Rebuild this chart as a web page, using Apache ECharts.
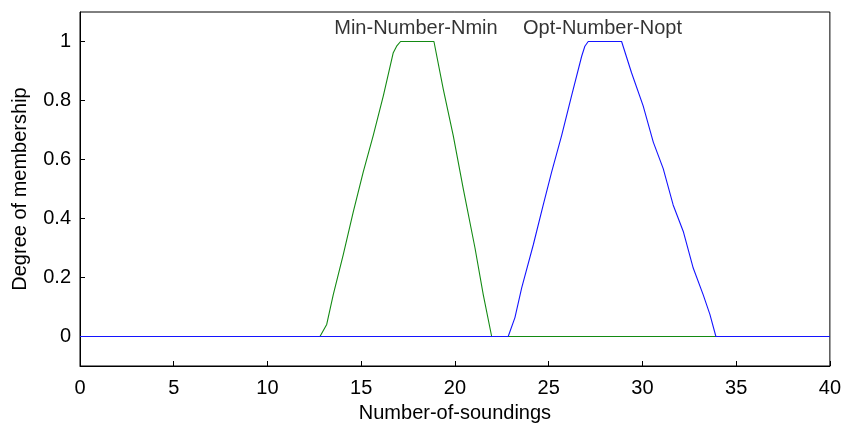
<!DOCTYPE html>
<html>
<head>
<meta charset="utf-8">
<script src="https://cdn.jsdelivr.net/npm/echarts@6/dist/echarts.min.js"></script>
<style>
html,body{margin:0;padding:0;background:#fff;}
#chart{width:844px;height:428px;}
</style>
</head>
<body>
<div id="chart"></div>
<script>
// Membership function "Min-Number-Nmin" (green)
var greenX = [0, 12.8, 13.16, 13.51, 14.04, 14.58, 15.11, 15.64, 16.18, 16.71, 16.89, 17.1, 18.88, 19.38, 19.91, 20.44, 21.07, 21.51, 21.96, 40];
var greenY = [0, 0, 0.041, 0.142, 0.277, 0.423, 0.558, 0.681, 0.816, 0.962, 0.984, 1, 1, 0.838, 0.681, 0.502, 0.300, 0.142, 0, 0];
// Membership function "Opt-Number-Nopt" (blue)
var blueX = [0, 22.84, 23.2, 23.56, 24.18, 24.71, 25.16, 25.69, 26.22, 26.76, 26.93, 27.11, 28.89, 29.42, 30.04, 30.58, 31.11, 31.64, 32.18, 32.71, 33.24, 33.6, 33.92, 40];
var blueY = [0, 0, 0.064, 0.165, 0.311, 0.446, 0.558, 0.681, 0.816, 0.950, 0.984, 1, 1, 0.894, 0.782, 0.659, 0.569, 0.446, 0.356, 0.232, 0.142, 0.075, 0, 0];
// MF names and the x where each name is centred
var mfNames = ['Min-Number-Nmin', 'Opt-Number-Nopt'];
var mfNameX = [17.92, 27.87];
var mfNameY = 1.045;
// Ticks
var yTicks = [0, 0.2, 0.4, 0.6, 0.8, 1];
var xTitle = 'Number-of-soundings';
var yTitle = 'Degree of membership';

function zip(xs, ys) { return xs.map(function (x, i) { return [x, ys[i]]; }); }

var FONT = 'Liberation Sans';
var FS = 20;
var chart = echarts.init(document.getElementById('chart'), null, { renderer: 'canvas' });

chart.setOption({
  animation: false,
  backgroundColor: '#fff',
  grid: { left: 80, right: 14, top: 12, bottom: 60, show: true, borderColor: '#000', borderWidth: 1, backgroundColor: 'transparent' },
  xAxis: {
    type: 'value', min: 0, max: 40, interval: 5,
    name: xTitle, nameLocation: 'middle', nameGap: 37,
    nameTextStyle: { fontFamily: FONT, fontSize: FS, color: '#000' },
    axisLine: { show: true, onZero: false, lineStyle: { color: '#000', width: 1 } },
    axisTick: { show: true, inside: true, length: 5, lineStyle: { color: '#000', width: 1 } },
    axisLabel: { fontFamily: FONT, fontSize: FS, color: '#000', margin: 12 },
    splitLine: { show: false }
  },
  yAxis: {
    type: 'value', min: -0.1, max: 1.1,
    name: yTitle, nameLocation: 'middle', nameGap: 50,
    nameTextStyle: { fontFamily: FONT, fontSize: FS, color: '#000' },
    axisLine: { show: true, onZero: false, lineStyle: { color: '#000', width: 1 } },
    axisTick: { show: true, inside: true, length: 5, customValues: yTicks, lineStyle: { color: '#000', width: 1 } },
    axisLabel: { customValues: yTicks, fontFamily: FONT, fontSize: FS, color: '#000', margin: 9,
      formatter: function (v) { return String(Math.round(v * 10) / 10); } },
    splitLine: { show: false }
  },
  series: [{
    name: mfNames[0], type: 'line',
    data: zip(greenX, greenY), showSymbol: false,
    lineStyle: { color: '#138a13', width: 1.1 }
  }, {
    name: mfNames[1], type: 'line',
    data: zip(blueX, blueY), showSymbol: false,
    lineStyle: { color: '#1414ff', width: 1.1 }
  }, {
    name: 'labels', type: 'scatter',
    symbolSize: 0, silent: true,
    data: mfNames.map(function (n, i) { return { value: [mfNameX[i], mfNameY], name: n }; }),
    label: { show: true, position: 'inside', formatter: '{b}', fontFamily: FONT, fontSize: FS, color: '#000' }
  }]
});
</script>
</body>
</html>
